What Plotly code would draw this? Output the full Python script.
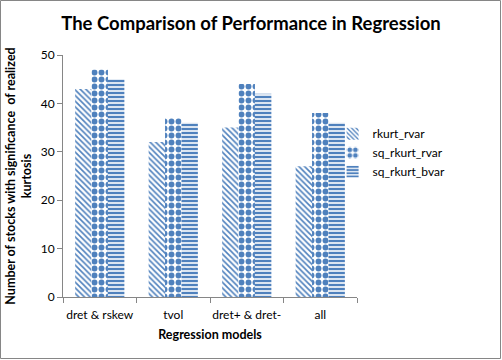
import plotly.graph_objects as go

categories = ["dret & rskew", "tvol", "dret+ & dret-", "all"]
rkurt_rvar = [43, 32, 35, 27]
sq_rkurt_rvar = [47, 37, 44, 38]
sq_rkurt_bvar = [45, 36, 42, 36]

blue = "#4F81BD"
W, H = 502, 360
ml, mr, mt, mb = 63, 145, 55, 63

fig = go.Figure()
fig.add_bar(x=categories, y=rkurt_rvar, name="rkurt_rvar",
            marker=dict(color=blue, line=dict(width=0),
                        pattern=dict(shape="\\", fgcolor=blue, bgcolor="white", fgopacity=1,
                                     size=4, solidity=0.4)))
fig.add_bar(x=categories, y=sq_rkurt_rvar, name="sq_rkurt_rvar",
            marker=dict(color=blue, line=dict(width=0),
                        pattern=dict(shape=".", fgcolor=blue, bgcolor="white", fgopacity=1,
                                     size=7, solidity=0.55)))
fig.add_bar(x=categories, y=sq_rkurt_bvar, name="sq_rkurt_bvar",
            marker=dict(color=blue, line=dict(width=0),
                        pattern=dict(shape="-", fgcolor=blue, bgcolor="white", fgopacity=1,
                                     size=4, solidity=0.6)))

pw = W - ml - mr
ph = H - mt - mb
fig.add_shape(type="rect", xref="paper", yref="paper",
              x0=-(ml - 0.5) / pw, x1=1 + (mr - 1.5) / pw,
              y0=-(mb - 1.5) / ph, y1=1 + (mt - 0.5) / ph,
              line=dict(color="#868686", width=1), layer="below")

fig.update_layout(
    width=W, height=H,
    margin=dict(l=ml, r=mr, t=mt, b=mb, autoexpand=False),
    paper_bgcolor="white", plot_bgcolor="white",
    font=dict(family="Lato", size=12, color="black"),
    title=dict(text="<b>The Comparison of Performance in Regression</b>",
               x=0.5, xref="container", xanchor="center", y=1 - 24 / H, yanchor="middle",
               font=dict(size=18.5, family="Lato")),
    barmode="group", bargap=0.33, bargroupgap=0,
    showlegend=True,
    legend=dict(x=0.917, y=0.735, xanchor="left", yanchor="top",
                font=dict(size=12), tracegroupgap=4, itemwidth=30,
                bgcolor="rgba(0,0,0,0)"),
    xaxis=dict(showline=True, linecolor="#868686", linewidth=1, automargin=False,
               ticks="outside", tickson="boundaries", ticklen=5, tickcolor="#868686",
               showgrid=False, tickangle=0, ticklabelstandoff=7,
               title=dict(text="<b>Regression models</b>", font=dict(size=12.5), standoff=8),
               tickfont=dict(size=12)),
    yaxis=dict(range=[0, 50], dtick=10, showline=True, linecolor="#868686", linewidth=1,
               automargin=False,
               ticks="outside", ticklen=5, tickcolor="#868686", showgrid=False, zeroline=False,
               title=dict(text="<b>Number of stocks with significance  of realized<br>kurtosis</b>",
                          font=dict(size=12.5), standoff=6),
               tickfont=dict(size=12)),
)

fig.write_html("out.html", config={"displayModeBar": False},
               post_script="document.body.style.margin='0';")
